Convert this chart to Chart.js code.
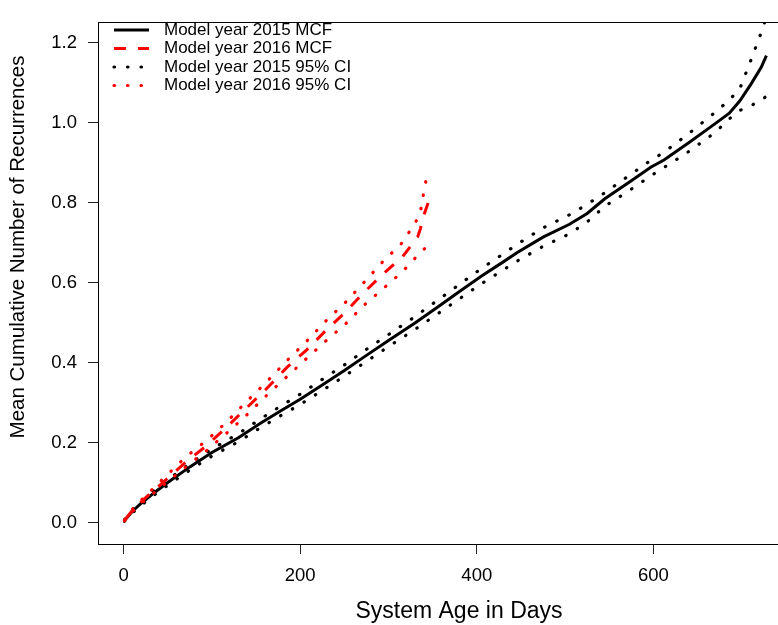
<!DOCTYPE html>
<html>
<head>
<meta charset="utf-8">
<script src="https://cdn.jsdelivr.net/npm/chart.js@4"></script>
<style>
  html, body { margin: 0; padding: 0; background: #fff; overflow: hidden; }
  #wrap { width: 796px; height: 625px; }
</style>
</head>
<body>
<div id="wrap"><canvas id="myChart"></canvas></div>
<script>
// Model year 2015
const days2015 = [1, 10, 20, 35, 50, 75, 100, 130, 155, 180, 200, 225, 250, 275, 300, 330, 355, 380, 405, 430, 445, 475, 505, 525, 545, 575, 597, 612, 640, 670, 686, 698, 710, 722, 728];
const mcf2015 = [0.005, 0.028, 0.048, 0.075, 0.100, 0.139, 0.175, 0.212, 0.248, 0.282, 0.308, 0.344, 0.380, 0.418, 0.455, 0.499, 0.538, 0.577, 0.616, 0.652, 0.674, 0.714, 0.746, 0.773, 0.810, 0.855, 0.889, 0.907, 0.950, 0.998, 1.024, 1.055, 1.095, 1.138, 1.168];
const upper2015 = [0.007, 0.032, 0.053, 0.081, 0.107, 0.147, 0.184, 0.222, 0.259, 0.294, 0.321, 0.358, 0.394, 0.433, 0.470, 0.515, 0.555, 0.595, 0.635, 0.672, 0.695, 0.737, 0.770, 0.796, 0.825, 0.872, 0.906, 0.926, 0.973, 1.026, 1.057, 1.086, 1.154, 1.225, 1.265];
const lower2015 = [0.003, 0.024, 0.043, 0.069, 0.093, 0.131, 0.166, 0.202, 0.237, 0.270, 0.295, 0.330, 0.366, 0.403, 0.440, 0.483, 0.521, 0.559, 0.597, 0.632, 0.653, 0.691, 0.722, 0.752, 0.791, 0.834, 0.867, 0.888, 0.928, 0.976, 1.010, 1.031, 1.042, 1.058, 1.066];

// Model year 2016
const days2016 = [1, 10, 21, 46, 71, 94, 116, 139, 162, 185, 208, 228, 251, 272, 293, 316, 333, 336, 341, 345];
const mcf2016 = [0.005, 0.030, 0.054, 0.103, 0.152, 0.192, 0.237, 0.286, 0.335, 0.388, 0.433, 0.478, 0.526, 0.575, 0.620, 0.665, 0.714, 0.734, 0.775, 0.800];
const upper2016 = [0.006, 0.033, 0.058, 0.112, 0.165, 0.205, 0.250, 0.302, 0.352, 0.405, 0.455, 0.502, 0.550, 0.600, 0.651, 0.701, 0.760, 0.775, 0.840, 0.880];
const lower2016 = [0.004, 0.027, 0.050, 0.095, 0.140, 0.180, 0.222, 0.268, 0.318, 0.365, 0.412, 0.452, 0.496, 0.543, 0.583, 0.628, 0.668, 0.676, 0.685, 0.690];

const xTicks = [0, 200, 400, 600];
const yTicks = [0, 0.2, 0.4, 0.6, 0.8, 1.0, 1.2];
const legendLabels = ["Model year 2015 MCF", "Model year 2016 MCF", "Model year 2015 95% CI", "Model year 2016 95% CI"];
const xTitle = "System Age in Days";
const yTitle = "Mean Cumulative Number of Recurrences";

const FONT = "'Liberation Sans', Arial, Helvetica, sans-serif";
const pts = (xs, ys) => xs.map((x, i) => ({ x: x, y: ys[i] }));

const solid = { color: "black", dash: [], width: 3, cap: "butt" };
const dashed = { color: "red", dash: [12, 12], width: 3, cap: "butt" };
const dotBlack = { color: "black", dash: [0.5, 13], width: 3.2, cap: "round" };
const dotRed = { color: "red", dash: [0.5, 13], width: 3.2, cap: "round" };

function ds(label, data, st, order) {
  return {
    label: label,
    data: data,
    borderColor: st.color,
    borderWidth: st.width,
    borderDash: st.dash,
    borderCapStyle: st.cap,
    pointRadius: 0,
    tension: 0,
    fill: false,
    order: order,
  };
}

const data = {
  datasets: [
    ds("2015 MCF", pts(days2015, mcf2015), solid, 3),
    ds("2015 upper", pts(days2015, upper2015), dotBlack, 2),
    ds("2015 lower", pts(days2015, lower2015), dotBlack, 2),
    ds("2016 MCF", pts(days2016, mcf2016), dashed, 0),
    ds("2016 upper", pts(days2016, upper2016), dotRed, 1),
    ds("2016 lower", pts(days2016, lower2016), dotRed, 1),
  ],
};

// box around the plot, axis titles and R-style legend
const rPlot = {
  id: "rPlot",
  afterDraw(chart) {
    const ctx = chart.ctx;
    const a = chart.chartArea;
    ctx.save();
    ctx.strokeStyle = "black";
    ctx.lineWidth = 1;
    ctx.setLineDash([]);
    ctx.strokeRect(Math.round(a.left) + 0.5, Math.round(a.top) + 0.5, Math.round(a.right - a.left), Math.round(a.bottom - a.top));

    ctx.fillStyle = "black";
    ctx.textAlign = "center";
    ctx.textBaseline = "alphabetic";
    ctx.font = "23px " + FONT;
    ctx.fillText(xTitle, 459, 618);
    ctx.save();
    ctx.translate(24, 247);
    ctx.rotate(-Math.PI / 2);
    ctx.font = "20.5px " + FONT;
    ctx.fillText(yTitle, 0, 0);
    ctx.restore();

    const styles = [solid, dashed, dotBlack, dotRed];
    const x0 = a.left + 16, x1 = a.left + 51, tx = a.left + 66;
    ctx.font = "17px " + FONT;
    ctx.textAlign = "left";
    ctx.textBaseline = "middle";
    legendLabels.forEach((lab, i) => {
      const y = 30 + i * 18.5;
      const st = styles[i];
      ctx.beginPath();
      ctx.strokeStyle = st.color;
      ctx.lineWidth = st.width;
      ctx.lineCap = st.cap;
      ctx.setLineDash(st.dash);
      ctx.moveTo(x0, y);
      ctx.lineTo(x1, y);
      ctx.stroke();
      ctx.fillText(lab, tx, y);
    });
    ctx.restore();
  },
};

const config = {
  type: "line",
  data: data,
  options: {
    responsive: true,
    maintainAspectRatio: false,
    animation: false,
    layout: { padding: { top: 10, right: 4, left: 0, bottom: 0 } },
    scales: {
      x: {
        type: "linear",
        min: -29,
        max: 757,
        afterBuildTicks: (s) => { s.ticks = xTicks.map((v) => ({ value: v })); },
        afterFit: (s) => { s.height = 81; },
        grid: { drawOnChartArea: false, drawTicks: true, tickLength: 10, color: "#222", tickWidth: 1 },
        border: { display: false },
        ticks: { color: "black", font: { family: FONT, size: 18.5 }, padding: 11, maxRotation: 0 },
      },
      y: {
        type: "linear",
        min: -0.054,
        max: 1.252,
        afterBuildTicks: (s) => { s.ticks = yTicks.map((v) => ({ value: v })); },
        afterFit: (s) => { s.width = 98; },
        grid: { drawOnChartArea: false, drawTicks: true, tickLength: 10, color: "#222", tickWidth: 1 },
        border: { display: false },
        ticks: { color: "black", font: { family: FONT, size: 18.5 }, padding: 11, callback: (v) => v.toFixed(1) },
      },
    },
    plugins: {
      legend: { display: false },
      tooltip: { enabled: false },
    },
    events: [],
  },
  plugins: [rPlot],
};

const myChart = new Chart(document.getElementById("myChart"), config);
</script>
</body>
</html>
